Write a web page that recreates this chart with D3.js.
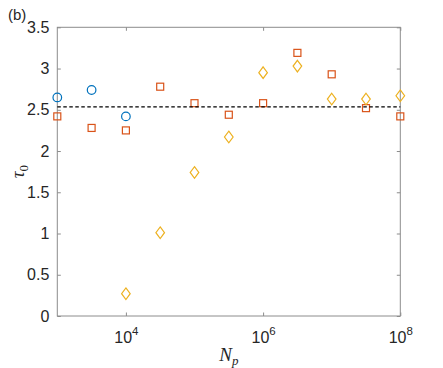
<!DOCTYPE html>
<html>
<head>
<meta charset="utf-8">
<script src="https://cdn.jsdelivr.net/npm/d3@7"></script>
<style>
  body { margin: 0; background: #fff; }
  .tick text { font-family: "Liberation Sans", Arial, sans-serif; fill: #262626; }
</style>
</head>
<body>
<div id="chart"></div>
<script>
// data
const npAll = [1e3, 3162, 1e4, 31623, 1e5, 316228, 1e6, 3162278, 1e7, 31622777, 1e8];
const npBlue = [1e3, 3162, 1e4];
const tauBlue = [2.65, 2.74, 2.42];
const tauOrange = [2.42, 2.28, 2.25, 2.78, 2.58, 2.44, 2.58, 3.19, 2.93, 2.52, 2.42];
const npYellow = [1e4, 31623, 1e5, 316228, 1e6, 3162278, 1e7, 31622777, 1e8];
const tauYellow = [0.27, 1.01, 1.74, 2.17, 2.95, 3.03, 2.63, 2.63, 2.67];
const tauMean = 2.535;
const xTicks = [1e4, 1e6, 1e8];
const yTicks = [0, 0.5, 1, 1.5, 2, 2.5, 3, 3.5];

const W = 443, H = 368;
const margin = {top: 27.3, right: 42.7, bottom: 52, left: 57.3};
const width = W - margin.left - margin.right;
const height = H - margin.top - margin.bottom;

const svg = d3.select("#chart").append("svg")
    .attr("width", W)
    .attr("height", H);

const g = svg.append("g")
    .attr("transform", `translate(${margin.left}, ${margin.top})`);

const x = d3.scaleLog().domain([1e3, 1e8]).range([0, width]);
const y = d3.scaleLinear().domain([0, 3.5]).range([height, 0]);

const axisColor = "#8c8c8c";

// box
g.append("rect")
    .attr("width", width)
    .attr("height", height)
    .attr("fill", "none")
    .attr("stroke", axisColor)
    .attr("stroke-width", 1);

// y axis
const yAxis = g.append("g")
    .call(d3.axisLeft(y).tickValues(yTicks).tickSize(-3.5).tickPadding(8).tickFormat(d3.format("")));
yAxis.select(".domain").remove();
yAxis.selectAll(".tick line").attr("stroke", axisColor);
yAxis.selectAll(".tick text").attr("font-size", 16);

// right ticks
g.append("g")
    .attr("transform", `translate(${width},0)`)
    .call(d3.axisRight(y).tickValues(yTicks).tickSize(-3.5).tickFormat(""))
    .call(s => s.select(".domain").remove())
    .selectAll(".tick line").attr("stroke", axisColor);

// x axis
const xAxis = g.append("g")
    .attr("transform", `translate(0,${height})`)
    .call(d3.axisBottom(x).tickValues(xTicks).tickSize(-3.5).tickFormat(""));
xAxis.select(".domain").remove();
xAxis.selectAll(".tick line").attr("stroke", axisColor);
xAxis.selectAll(".tick").append("text")
    .attr("y", 26.5)
    .attr("text-anchor", "middle")
    .attr("font-size", 16)
    .each(function(d) {
        const t = d3.select(this);
        t.append("tspan").text("10");
        t.append("tspan").attr("dy", -7.5).attr("font-size", 11.5).text(Math.round(Math.log10(d)));
    });

// top ticks
g.append("g")
    .call(d3.axisTop(x).tickValues(xTicks).tickSize(-3.5).tickFormat(""))
    .call(s => s.select(".domain").remove())
    .selectAll(".tick line").attr("stroke", axisColor);

// circles
g.selectAll(".blue")
    .data(npBlue.map((n, i) => [n, tauBlue[i]]))
    .enter().append("circle")
    .attr("cx", d => x(d[0]))
    .attr("cy", d => y(d[1]))
    .attr("r", 4.3)
    .attr("fill", "none")
    .attr("stroke", "#0072BD")
    .attr("stroke-width", 1.2);

// squares
const sq = 7;
g.selectAll(".orange")
    .data(npAll.map((n, i) => [n, tauOrange[i]]))
    .enter().append("rect")
    .attr("x", d => x(d[0]) - sq / 2)
    .attr("y", d => y(d[1]) - sq / 2)
    .attr("width", sq)
    .attr("height", sq)
    .attr("fill", "none")
    .attr("stroke", "#D95319")
    .attr("stroke-width", 1.2);

// diamonds
g.selectAll(".yellow")
    .data(npYellow.map((n, i) => [n, tauYellow[i]]))
    .enter().append("path")
    .attr("d", d => {
        const cx = x(d[0]), cy = y(d[1]);
        return `M${cx},${cy - 5.8}L${cx + 4.3},${cy}L${cx},${cy + 5.8}L${cx - 4.3},${cy}Z`;
    })
    .attr("fill", "none")
    .attr("stroke", "#EDB120")
    .attr("stroke-width", 1.2);

// mean line
g.append("line")
    .attr("x1", 0)
    .attr("x2", width)
    .attr("y1", y(tauMean))
    .attr("y2", y(tauMean))
    .attr("stroke", "#000")
    .attr("stroke-width", 1.2)
    .attr("stroke-dasharray", "3.5,2.5");

// axis labels
const xl = svg.append("text")
    .attr("x", margin.left + width / 2)
    .attr("y", 361)
    .attr("text-anchor", "middle")
    .attr("font-family", "'Liberation Serif', 'DejaVu Serif', serif")
    .attr("font-style", "italic")
    .attr("font-size", 19)
    .attr("fill", "#262626");
xl.append("tspan").text("N");
xl.append("tspan").attr("dy", 4).attr("font-size", 13).text("p");

const yl = svg.append("text")
    .attr("transform", `translate(24, ${margin.top + height / 2}) rotate(-90)`)
    .attr("text-anchor", "middle")
    .attr("font-family", "'Liberation Serif', 'DejaVu Serif', serif")
    .attr("font-style", "italic")
    .attr("font-size", 19)
    .attr("fill", "#262626");
yl.append("tspan").text("τ");
yl.append("tspan").attr("dy", 4).attr("font-size", 13).attr("font-style", "normal").text("0");

// panel label
svg.append("text")
    .attr("x", 8)
    .attr("y", 20)
    .attr("font-family", "'Liberation Sans', Arial, sans-serif")
    .attr("font-size", 15)
    .attr("fill", "#262626")
    .text("(b)");
</script>
</body>
</html>
